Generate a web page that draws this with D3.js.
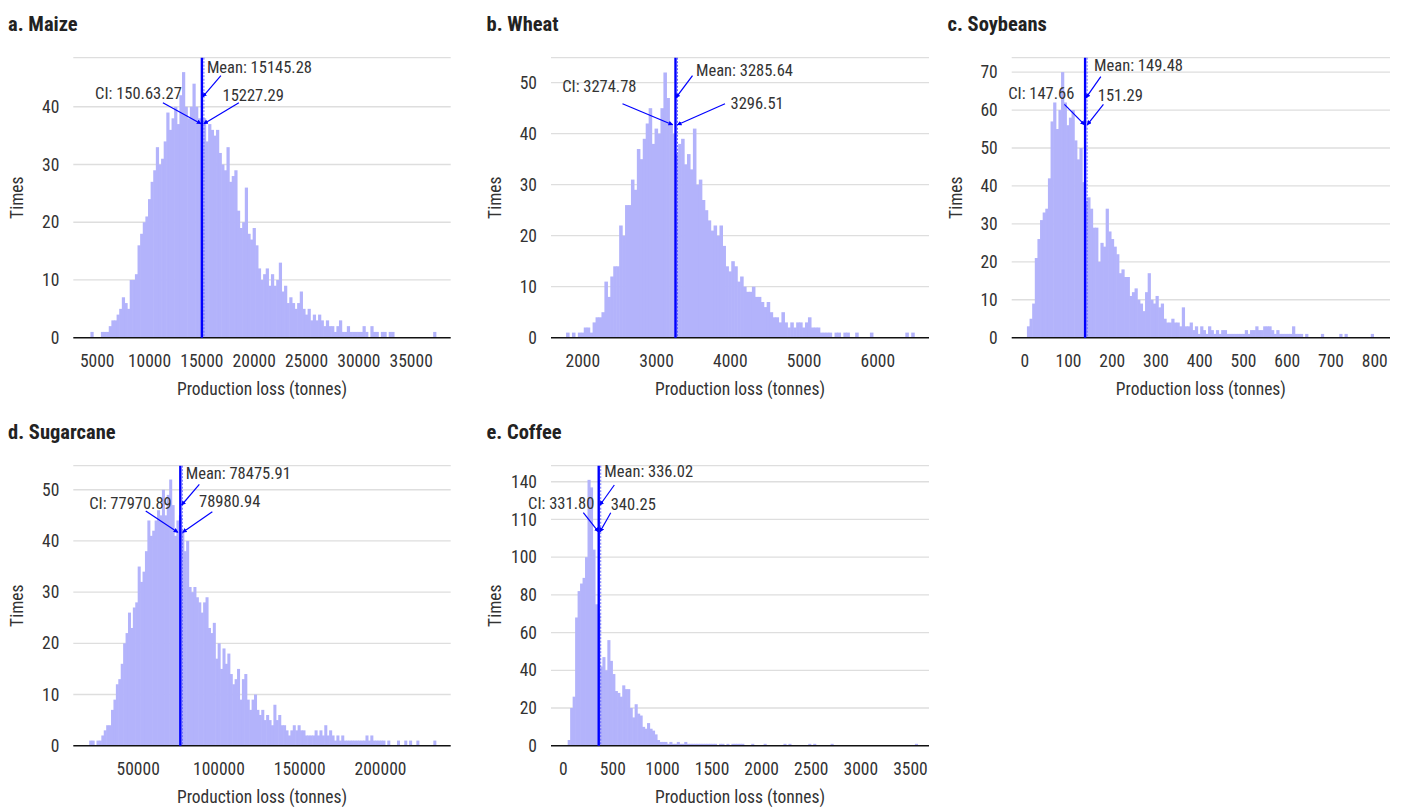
<!DOCTYPE html>
<html>
<head>
<meta charset="utf-8">
<script src="https://cdn.jsdelivr.net/npm/d3@7"></script>
<style>
  body { margin: 0; background: #fff; }
  text { font-family: "Liberation Sans Narrow", "Roboto Condensed", "DejaVu Sans Condensed", sans-serif; fill: #333; }
</style>
</head>
<body>
<svg id="chart" width="1405" height="807"></svg>
<script>
// ---- data (bin counts, bin start, bin width) ----
const maizeStart = 3900, maizeBin = 250;
const maizeCounts = [
  0,0,1,0,0,0,1,1,1,2, 3,3,4,5,7,6,5,10,10,11, 16,18,20,21,24,27,29,33,30,31,
  34,39,36,38,40,37,42,46,40,38, 40,44,40,38,36,38,34,37,36,35, 36,32,30,29,33,27,28,29,22,19,
  20,26,18,17,19,16,12,10,11,12, 9,11,9,10,13,8,9,6,7,6, 5,6,8,5,4,5,3,4,3,4,
  3,2,3,2,2,1,2,3,1,1, 2,1,1,1,1,1,2,1,0,2, 1,1,0,1,1,0,1,1,0,0,
  0,0,0,0,0,0,0,0,0,0, 0,0,0,1
];
const wheatStart = 1780, wheatBin = 40;
const wheatCounts = [
  1,0,1,0,1,1,2,2,1,3, 4,4,5,11,8,12,14,14,22,20, 26,26,31,29,37,35,39,42,45,38,
  41,40,45,52,47,42,40,36,38,39, 34,36,33,41,30,31,27,25,23,21, 22,20,22,18,14,13,15,14,11,12,
  10,9,9,10,8,8,7,6,7,5, 4,4,3,5,3,2,3,2,3,3, 2,3,4,2,2,2,1,1,1,1,
  0,1,1,0,1,1,0,0,1,0, 0,0,0,1,0,0,0,0,0,0, 0,0,0,0,0,1,0,1
];
const soyStart = 6, soyBin = 6;
const soyCounts = [
  3,5,9,21,26,31,33,34,42,57, 62,55,60,70,62,56,58,60,52,47, 50,41,36,37,34,29,29,20,25,24,
  34,28,26,24,22,17,18,16,16,11, 12,13,10,9,7,12,17,10,9,11, 8,9,5,4,4,5,4,4,3,8,
  3,3,4,2,3,1,3,2,1,3, 2,1,2,1,2,2,1,1,1,1, 1,1,1,2,1,2,2,3,2,2,
  3,3,3,2,1,2,1,1,1,1, 1,3,1,1,1,0,1,0,0,0, 0,0,1,0,0,0,0,0,0,1,
  0,1,0,0,0,0,0,0,0,0, 0,1,0
];
const sugarStart = 20000, sugarBin = 1500;
const sugarCounts = [
  1,1,0,1,1,2,3,4,4,7, 9,12,13,16,20,22,26,23,27,28, 35,32,34,38,44,41,42,44,46,45,
  50,45,49,52,47,41,44,45,42,38, 40,31,30,31,29,28,26,28,29,23, 22,24,17,20,15,19,16,18,14,12,
  13,15,9,13,14,9,7,9,10,7, 6,7,5,6,5,4,8,5,6,4, 4,3,2,3,4,3,4,3,3,2,
  2,2,2,3,2,3,2,4,2,3, 2,1,2,1,2,1,1,1,1,1, 1,1,1,1,2,1,2,1,1,1,
  1,1,0,1,0,0,0,1,0,0, 1,0,1,0,0,1,0,0,0,0, 0,0,1
];
const coffeeStart = 25, coffeeBin = 25;
const coffeeCounts = [
  0,3,20,26,68,82,86,89,100,141, 137,104,75,70,42,47,40,56,45,38, 29,28,26,32,30,30,20,15,22,17,
  16,10,9,12,9,8,6,3,2,2, 2,1,2,1,1,2,1,1,2,1, 1,1,1,1,1,1,1,1,1,1,
  1,0,1,1,0,1,0,1,1,1, 1,1,0,0,0,1,0,0,0,0, 1,0,0,0,0,0,0,0,1,0,
  1,0,0,0,0,0,0,0,1,0, 1,0,0,0,0,0,0,1,0,0, 0,0,0,0,0,0,0,0,0,0,
  0,0,0,0,0,0,0,0,0,0, 0,0,0,0,0,0,0,0,0,0, 0,1
];

// x tick values
const maizeTicks = [5000, 10000, 15000, 20000, 25000, 30000, 35000];
const wheatTicks = [2000, 3000, 4000, 5000, 6000];
const soyTicks = [0, 100, 200, 300, 400, 500, 600, 700, 800];
const sugarTicks = [50000, 100000, 150000, 200000];
const coffeeTicks = [0, 500, 1000, 1500, 2000, 2500, 3000, 3500];

// y tick values and labels
const maizeYTicks = [0, 10, 20, 30, 40];
const wheatYTicks = [0, 10, 20, 30, 40, 50];
const soyYTicks = [0, 10, 20, 30, 40, 50, 60, 70];
const sugarYTicks = [0, 10, 20, 30, 40, 50];
const coffeeYTicks = [0, 20, 40, 60, 80, 100, 120, 140];
const coffeeYLabels = ['0', '20', '40', '60', '80', '100', '110', '140'];

// where the mean line sits in the picture, and its labels
const markerPos = [15050, 3264, 139, 76400, 363];
const meanLabels = ['Mean: 15145.28', 'Mean: 3285.64', 'Mean: 149.48', 'Mean: 78475.91', 'Mean: 336.02'];
const ciLowLabels = ['CI: 150.63.27', 'CI: 3274.78', 'CI: 147.66', 'CI: 77970.89', 'CI: 331.80'];
const ciHighLabels = ['15227.29', '3296.51', '151.29', '78980.94', '340.25'];
const titles = ['a. Maize', 'b. Wheat', 'c. Soybeans', 'd. Sugarcane', 'e. Coffee'];

// ---- layout ----
const panels = [
  { counts: maizeCounts, start: maizeStart, bin: maizeBin, xTicks: maizeTicks, yTicks: maizeYTicks,
    xDomain: [2763, 38824], yMax: 48.5, box: [73.3, 450.7, 57.7, 337.7], titleX: 8,
    ann: { mt: [5, 15.6], ma: [19, 18, 1, 39], lt: [-20, 41.3], ll: [-39, 45, -1, 66], rt: [20.6, 43], rl: [37, 45, 2, 66] } },
  { counts: wheatCounts, start: wheatStart, bin: wheatBin, xTicks: wheatTicks, yTicks: wheatYTicks,
    xDomain: [1576, 6701], yMax: 54.9, box: [551, 929, 57.7, 337.7], titleX: 486.5,
    ann: { mt: [20.5, 18], ma: [17, 18, 0.5, 40], lt: [-39, 34], ll: [-53, 46, -3, 67], rt: [55, 51], rl: [49.5, 46, 2, 67] } },
  { counts: soyCounts, start: soyStart, bin: soyBin, xTicks: soyTicks, yTicks: soyYTicks,
    xDomain: [-28.8, 835.9], yMax: 73.8, box: [1011.7, 1390, 57.7, 337.7], titleX: 947.5,
    ann: { mt: [9, 13], ma: [15.7, 19, 1, 40], lt: [-10.7, 41.6], ll: [-20.7, 46.6, -0.7, 67], rt: [12.7, 43.3], rl: [18.3, 46.6, 2.3, 67] } },
  { counts: sugarCounts, start: sugarStart, bin: sugarBin, xTicks: sugarTicks, yTicks: sugarYTicks,
    xDomain: [10150, 243750], yMax: 54.7, box: [73.3, 450.7, 465.7, 745.7], titleX: 8,
    ann: { mt: [5.4, 13.6], ma: [19, 18.6, 1.4, 39.3], lt: [-8.6, 43.3], ll: [-34.6, 45.3, -2.6, 66.6], rt: [18.7, 41.6], rl: [32, 46, 2.4, 66.6] } },
  { counts: coffeeCounts, start: coffeeStart, bin: coffeeBin, xTicks: coffeeTicks, yTicks: coffeeYTicks, yLabels: coffeeYLabels,
    xDomain: [-118, 3692], yMax: 148.5, box: [551, 929, 465.7, 745.7], titleX: 486.5,
    ann: { mt: [5.6, 11.6], ma: [15.6, 19.3, 1.3, 39.3], lt: [-4.4, 43.3], ll: [-15.4, 47, -0.4, 66], rt: [12, 44.3], rl: [12, 47, 1.3, 66] } }
];

const svg = d3.select('#chart');
svg.append('rect').attr('width', 1405).attr('height', 807).attr('fill', '#fff');

// small arrowhead
svg.append('defs').append('marker')
  .attr('id', 'tip')
  .attr('viewBox', '0 0 6 6')
  .attr('refX', 5).attr('refY', 3)
  .attr('markerWidth', 4).attr('markerHeight', 4)
  .attr('orient', 'auto')
  .append('path').attr('d', 'M0,0 L6,3 L0,6 Z').attr('fill', '#0000ff');

panels.forEach((p, k) => {
  const [x0, x1, top, bottom] = p.box;
  const x = d3.scaleLinear().domain(p.xDomain).range([x0, x1]);
  const y = d3.scaleLinear().domain([0, p.yMax]).range([bottom, top]);
  const g = svg.append('g');

  // title
  svg.append('text')
    .attr('x', p.titleX).attr('y', top - 27.2)
    .style('font-size', '20.5px').style('font-weight', 'bold').style('fill', '#222')
    .text(titles[k]);

  // gridlines (ticks + top of domain)
  g.selectAll('.grid')
    .data(p.yTicks.filter(d => d > 0).concat([p.yMax]))
    .enter().append('line')
    .attr('x1', x0).attr('x2', x1)
    .attr('y1', d => y(d)).attr('y2', d => y(d))
    .attr('stroke', '#dedede').attr('stroke-width', 1.3);

  // bars
  const bars = p.counts.map((c, i) => ({ x: p.start + i * p.bin, c: c })).filter(d => d.c > 0);
  g.selectAll('.bar')
    .data(bars)
    .enter().append('rect')
    .attr('x', d => x(d.x))
    .attr('width', x(p.bin) - x(0) + 0.6)
    .attr('y', d => y(d.c))
    .attr('height', d => bottom - y(d.c))
    .attr('fill', '#b3b3fb');

  // baseline
  g.append('line')
    .attr('x1', x0).attr('x2', x1).attr('y1', bottom).attr('y2', bottom)
    .attr('stroke', '#111').attr('stroke-width', 1.5);

  // axes
  const xAxis = d3.axisBottom(x).tickValues(p.xTicks).tickSize(0).tickPadding(17).tickFormat(d3.format('d'));
  const xa = g.append('g').attr('transform', `translate(0,${bottom})`).call(xAxis);
  xa.select('.domain').remove();
  xa.selectAll('text').style('font-size', '17.5px').style('font-family', null).attr('fill', '#333');

  const yAxis = d3.axisLeft(y).tickValues(p.yTicks).tickSize(0).tickPadding(14)
    .tickFormat((d, i) => p.yLabels ? p.yLabels[i] : d);
  const ya = g.append('g').attr('transform', `translate(${x0},0)`).call(yAxis);
  ya.select('.domain').remove();
  ya.selectAll('text').style('font-size', '17.5px').style('font-family', null).attr('fill', '#333');

  // axis titles
  g.append('text')
    .attr('transform', `translate(${x0 - 50},${(top + bottom) / 2}) rotate(-90)`)
    .attr('text-anchor', 'middle')
    .style('font-size', '17.5px')
    .text('Times');
  g.append('text')
    .attr('x', (x0 + x1) / 2).attr('y', bottom + 57)
    .attr('text-anchor', 'middle')
    .style('font-size', '17.5px')
    .text('Production loss (tonnes)');

  // mean line and CI marker
  const mx = x(markerPos[k]);
  g.append('line')
    .attr('x1', mx).attr('x2', mx).attr('y1', top).attr('y2', bottom)
    .attr('stroke', '#0000ff').attr('stroke-width', 2.4);
  g.append('line')
    .attr('x1', mx + 2).attr('x2', mx + 2).attr('y1', top).attr('y2', bottom)
    .attr('stroke', '#5a5aff').attr('stroke-width', 0.9).attr('stroke-dasharray', '2,1.5');

  // annotations
  const a = p.ann;
  const seg = (s) => g.append('line')
    .attr('x1', mx + s[0]).attr('y1', top + s[1])
    .attr('x2', mx + s[2]).attr('y2', top + s[3])
    .attr('stroke', '#0000ff').attr('stroke-width', 1.2)
    .attr('marker-end', 'url(#tip)');
  seg(a.ma); seg(a.ll); seg(a.rl);

  g.append('text').attr('x', mx + a.mt[0]).attr('y', top + a.mt[1])
    .style('font-size', '16.5px').text(meanLabels[k]);
  g.append('text').attr('x', mx + a.lt[0]).attr('y', top + a.lt[1])
    .attr('text-anchor', 'end')
    .style('font-size', '16.5px').text(ciLowLabels[k]);
  g.append('text').attr('x', mx + a.rt[0]).attr('y', top + a.rt[1])
    .style('font-size', '16.5px').text(ciHighLabels[k]);
});
</script>
</body>
</html>
